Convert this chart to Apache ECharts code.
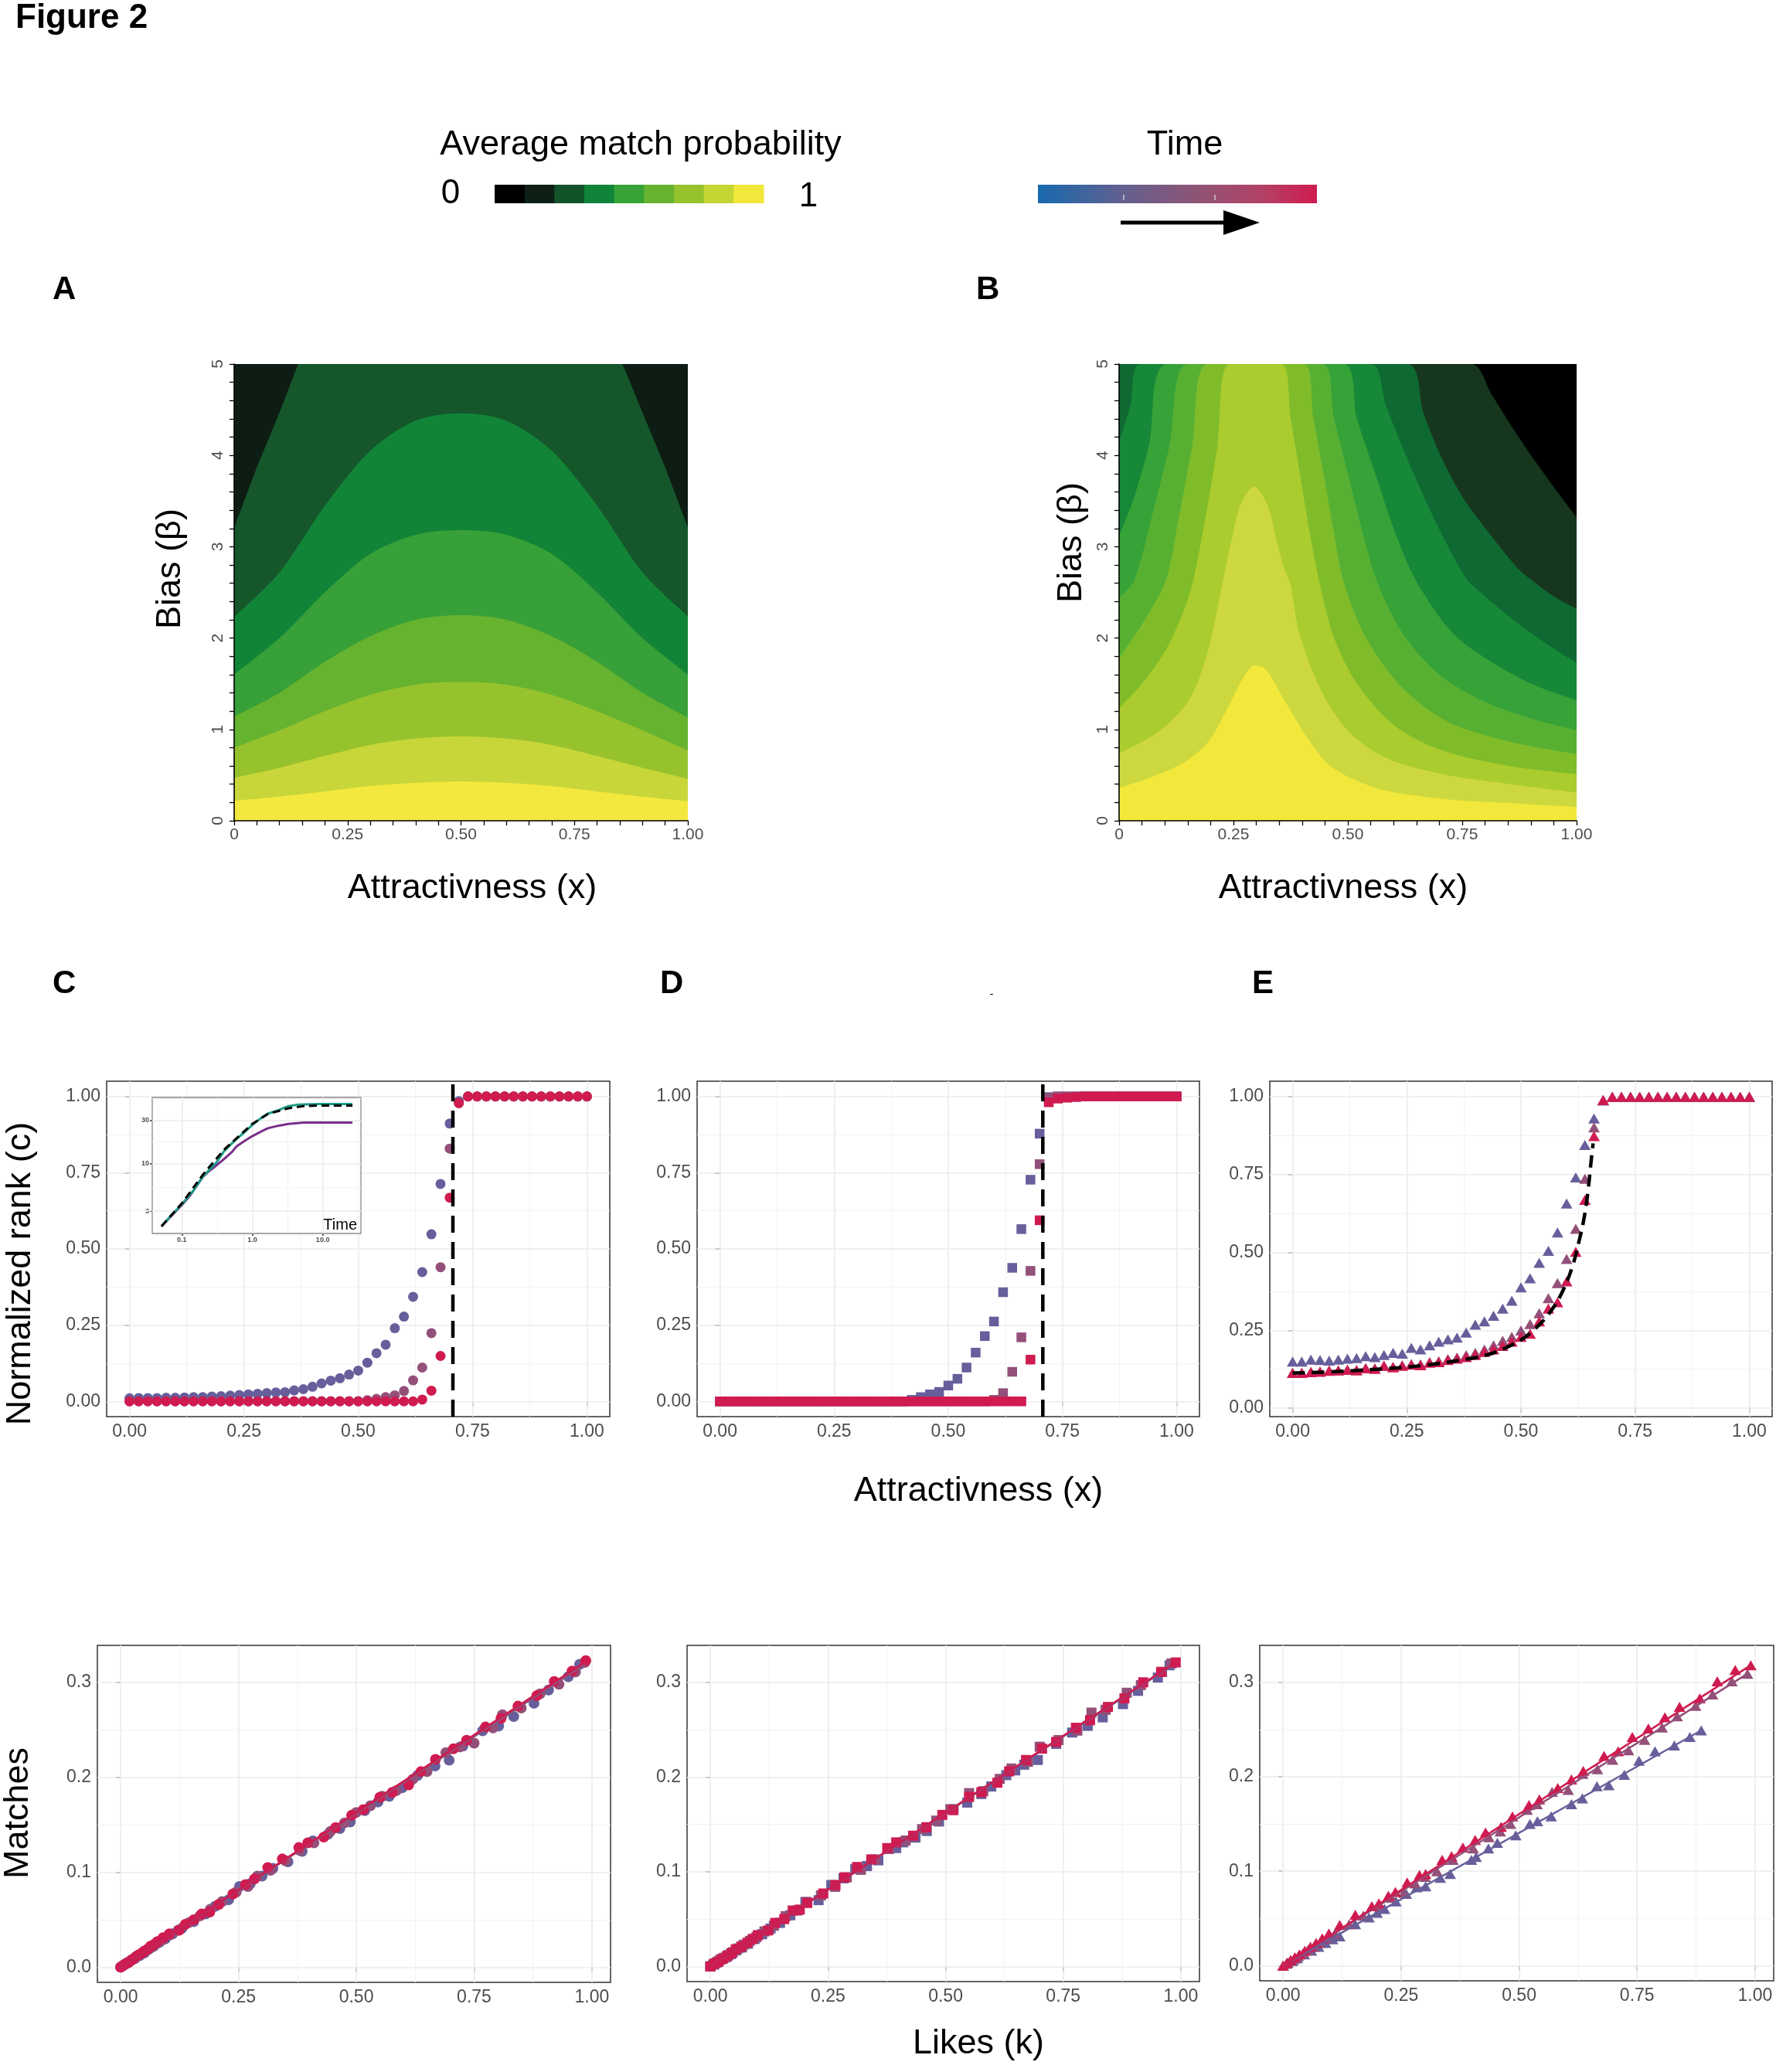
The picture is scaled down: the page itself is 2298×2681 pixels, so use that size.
<!DOCTYPE html>
<html>
<head>
<meta charset="utf-8">
<script src="https://cdn.jsdelivr.net/npm/echarts@6/dist/echarts.min.js"></script>
<style>
  html, body { margin: 0; padding: 0; background: #fff; }
  #fig { width: 2298px; height: 2681px; }
</style>
</head>
<body>
<div id="fig"></div>
<script>
// ---------- colours
const matchColors = ['#000000', '#0e1f15', '#13532a', '#108439', '#37a337', '#67b32f', '#95c22d', '#c4d534', '#f2e83b'];
const aColors = ['#0e1d14', '#15562b', '#128437', '#38a038', '#66b32f', '#96c22d', '#c8d63a', '#f3e83e'];
const bColors = ['#000000', '#16371d', '#0f6933', '#168838', '#36a238', '#58b033', '#80bc2a', '#abcc2e', '#cdd83f', '#f2e83b'];
const timeEarly = '#665f9b', timeMid = '#935079', timeLate = '#cf1b50';

// ---------- panel A: upper edge (beta) of each band, from darkest to yellow
const aTopX = [0, 1];
const aTop = [5, 5];
const aBand7X = [0, 0.05, 0.1, 0.141, 0.5, 0.856, 0.9, 0.95, 1];
const aBand7 = [3.21, 3.87, 4.47, 5, 5, 5, 4.47, 3.87, 3.21];
const aX = [0, 0.1, 0.2, 0.3, 0.4, 0.5, 0.6, 0.7, 0.8, 0.9, 1];
const aBand6 = [2.23, 2.72, 3.45, 4.05, 4.38, 4.46, 4.38, 4.05, 3.45, 2.72, 2.24];
const aBand5 = [1.6, 2.0, 2.5, 2.92, 3.13, 3.18, 3.13, 2.92, 2.5, 2.0, 1.6];
const aBand4 = [1.14, 1.40, 1.74, 2.02, 2.2, 2.25, 2.2, 2.02, 1.74, 1.40, 1.13];
const aBand3 = [0.8, 0.99, 1.2, 1.38, 1.49, 1.52, 1.49, 1.38, 1.2, 0.99, 0.77];
const aBand2 = [0.47, 0.58, 0.71, 0.83, 0.9, 0.925, 0.9, 0.83, 0.71, 0.58, 0.46];
const aBand1 = [0.22, 0.265, 0.32, 0.38, 0.415, 0.43, 0.415, 0.38, 0.32, 0.265, 0.215];

// ---------- panel B: upper edge of each level region (T1 darkest ... T9 yellow)
const bTopX = [0, 1];
const bTop = [5, 5];
const bT1X = [0, 0.769, 0.815, 0.864, 0.913, 0.955, 1];
const bT1 = [5, 5, 4.66, 4.27, 3.91, 3.62, 3.32];
const bT2X = [0, 0.63, 0.666, 0.707, 0.75, 0.79, 0.872, 0.911, 0.955, 1];
const bT2 = [5, 5, 4.45, 3.95, 3.55, 3.27, 2.76, 2.6, 2.44, 2.32];
const bT3X = [0, 0.025, 0.046, 0.55, 0.583, 0.625, 0.666, 0.707, 0.759, 0.79, 0.872, 0.955, 1];
const bT3 = [4.15, 4.55, 5, 5, 4.55, 4.02, 3.55, 3.12, 2.65, 2.5, 2.16, 1.87, 1.73];
const bT4X = [0, 0.03, 0.065, 0.106, 0.49, 0.52, 0.56, 0.6, 0.649, 0.73, 0.82, 0.91, 1];
const bT4 = [3.12, 3.5, 4.1, 5, 5, 4.4, 3.8, 3.2, 2.63, 2.05, 1.72, 1.48, 1.32];
const bT5X = [0, 0.033, 0.07, 0.11, 0.152, 0.444, 0.47, 0.5, 0.53, 0.563, 0.62, 0.7, 0.8, 0.9, 1];
const bT5 = [2.44, 2.63, 3.3, 4.1, 5, 5, 4.4, 3.8, 3.2, 2.63, 2.05, 1.6, 1.3, 1.12, 0.99];
const bT6X = [0, 0.05, 0.102, 0.13, 0.16, 0.195, 0.404, 0.425, 0.447, 0.468, 0.49, 0.54, 0.62, 0.72, 0.85, 1];
const bT6 = [1.78, 2.15, 2.63, 3.3, 4.1, 5, 5, 4.4, 3.8, 3.2, 2.63, 2.0, 1.45, 1.08, 0.87, 0.73];
const bT7X = [0, 0.05, 0.1, 0.14, 0.162, 0.19, 0.215, 0.242, 0.354, 0.375, 0.395, 0.415, 0.437, 0.47, 0.52, 0.6, 0.7, 0.85, 1];
const bT7 = [1.23, 1.5, 1.85, 2.28, 2.63, 3.35, 4.1, 5, 5, 4.4, 3.8, 3.2, 2.63, 2.0, 1.5, 1.05, 0.78, 0.6, 0.51];
const bT8X = [0, 0.088, 0.154, 0.195, 0.222, 0.245, 0.265, 0.295, 0.325, 0.345, 0.361, 0.374, 0.394, 0.443, 0.501, 0.583, 0.707, 0.872, 1];
const bT8 = [0.74, 0.98, 1.33, 1.87, 2.5, 3.05, 3.45, 3.66, 3.45, 3.05, 2.76, 2.6, 2.05, 1.41, 0.98, 0.69, 0.51, 0.39, 0.31];
const bT9X = [0, 0.072, 0.146, 0.196, 0.237, 0.27, 0.295, 0.32, 0.36, 0.402, 0.451, 0.501, 0.583, 0.707, 0.831, 1];
const bT9 = [0.36, 0.48, 0.65, 0.87, 1.23, 1.55, 1.70, 1.66, 1.33, 0.98, 0.65, 0.48, 0.33, 0.24, 0.2, 0.15];

// ---------- panels C, D, E: normalized rank vs attractiveness
const rankX = [0.00, 0.02, 0.04, 0.06, 0.08, 0.10, 0.12, 0.14, 0.16, 0.18, 0.20, 0.22, 0.24, 0.26, 0.28, 0.30, 0.32, 0.34, 0.36, 0.38, 0.40, 0.42, 0.44, 0.46, 0.48, 0.50, 0.52, 0.54, 0.56, 0.58, 0.60, 0.62, 0.64, 0.66, 0.68, 0.70, 0.72, 0.74, 0.76, 0.78, 0.80, 0.82, 0.84, 0.86, 0.88, 0.90, 0.92, 0.94, 0.96, 0.98, 1.00];
const cEarly = [0.010, 0.011, 0.011, 0.011, 0.012, 0.012, 0.013, 0.014, 0.014, 0.016, 0.017, 0.019, 0.021, 0.023, 0.025, 0.027, 0.029, 0.030, 0.036, 0.040, 0.048, 0.059, 0.068, 0.076, 0.088, 0.101, 0.127, 0.158, 0.186, 0.240, 0.278, 0.343, 0.424, 0.548, 0.713, 0.911, 0.985, 1, 1, 1, 1, 1, 1, 1, 1, 1, 1, 1, 1, 1, 1];
const cMid = [0.001, 0.001, 0.001, 0.001, 0.001, 0.001, 0.001, 0.001, 0.001, 0.001, 0.001, 0.001, 0.001, 0.001, 0.001, 0.001, 0.001, 0.001, 0.001, 0.001, 0.001, 0.001, 0.001, 0.001, 0.001, 0.001, 0.004, 0.008, 0.014, 0.020, 0.034, 0.069, 0.111, 0.224, 0.440, 0.829, 0.980, 1, 1, 1, 1, 1, 1, 1, 1, 1, 1, 1, 1, 1, 1];
const cLate = [0, 0, 0, 0, 0, 0, 0, 0, 0, 0, 0, 0, 0, 0, 0, 0, 0, 0, 0, 0, 0, 0, 0, 0, 0, 0, 0, 0, 0, 0, 0, 0, 0.006, 0.035, 0.149, 0.668, 0.978, 1, 1, 1, 1, 1, 1, 1, 1, 1, 1, 1, 1, 1, 1];
const dEarly = [0, 0, 0, 0, 0, 0, 0, 0, 0, 0, 0, 0, 0, 0, 0, 0, 0, 0, 0, 0, 0, 0.005, 0.014, 0.023, 0.031, 0.052, 0.074, 0.111, 0.160, 0.214, 0.262, 0.358, 0.438, 0.565, 0.727, 0.878, 0.998, 1, 1, 1, 1, 1, 1, 1, 1, 1, 1, 1, 1, 1, 1];
const dMid = [0, 0, 0, 0, 0, 0, 0, 0, 0, 0, 0, 0, 0, 0, 0, 0, 0, 0, 0, 0, 0, 0, 0, 0, 0, 0, 0, 0, 0, 0, 0.005, 0.027, 0.097, 0.210, 0.428, 0.778, 0.995, 1, 1, 1, 1, 1, 1, 1, 1, 1, 1, 1, 1, 1, 1];
const dLate = [0, 0, 0, 0, 0, 0, 0, 0, 0, 0, 0, 0, 0, 0, 0, 0, 0, 0, 0, 0, 0, 0, 0, 0, 0, 0, 0, 0, 0, 0, 0, 0, 0, 0, 0.137, 0.594, 0.981, 0.993, 0.996, 0.998, 1, 1, 1, 1, 1, 1, 1, 1, 1, 1, 1];
const eEarly = [0.150, 0.150, 0.156, 0.155, 0.153, 0.156, 0.159, 0.161, 0.167, 0.164, 0.171, 0.178, 0.175, 0.194, 0.189, 0.202, 0.214, 0.221, 0.227, 0.243, 0.268, 0.279, 0.297, 0.320, 0.345, 0.388, 0.417, 0.467, 0.505, 0.564, 0.657, 0.741, 0.845, 0.930, 0.988, 1, 1, 1, 1, 1, 1, 1, 1, 1, 1, 1, 1, 1, 1, 1, 1];
const eMid = [0.114, 0.114, 0.117, 0.118, 0.121, 0.122, 0.124, 0.123, 0.129, 0.128, 0.137, 0.133, 0.138, 0.142, 0.141, 0.148, 0.151, 0.158, 0.163, 0.170, 0.178, 0.188, 0.202, 0.217, 0.229, 0.250, 0.270, 0.305, 0.353, 0.402, 0.479, 0.576, 0.737, 0.902, 0.989, 1, 1, 1, 1, 1, 1, 1, 1, 1, 1, 1, 1, 1, 1, 1, 1];
const eLate = [0.113, 0.113, 0.116, 0.117, 0.120, 0.121, 0.123, 0.121, 0.128, 0.126, 0.136, 0.131, 0.136, 0.140, 0.138, 0.146, 0.148, 0.155, 0.159, 0.164, 0.171, 0.181, 0.189, 0.200, 0.214, 0.229, 0.239, 0.279, 0.320, 0.340, 0.407, 0.502, 0.669, 0.874, 0.990, 1, 1, 1, 1, 1, 1, 1, 1, 1, 1, 1, 1, 1, 1, 1, 1];
const eTheoryX = [0, 0.1, 0.232, 0.3, 0.387, 0.43, 0.464, 0.503, 0.527, 0.55, 0.573, 0.592, 0.612, 0.627, 0.639, 0.647, 0.654, 0.658];
const eTheory = [0.113, 0.118, 0.130, 0.140, 0.159, 0.173, 0.192, 0.222, 0.250, 0.283, 0.328, 0.378, 0.452, 0.535, 0.617, 0.700, 0.799, 0.850];
const thresholdC = 0.707, thresholdD = 0.707;

// ---------- inset of C (log-log, rank vs time)
const insetTealX = [0.0514, 0.0732, 0.1, 0.144, 0.201, 0.307, 0.395, 0.555, 0.776, 1.0, 1.40, 1.66, 2.32, 3.26, 4.56, 8.96, 26.4];
const insetTeal = [2.05, 2.79, 3.57, 5.0, 7.28, 10.2, 13.6, 17.7, 22.1, 26.5, 32.6, 35.3, 38.4, 42.8, 44.5, 45.1, 45.1];
const insetDashX = [0.0514, 0.1, 0.2, 0.394, 1.0, 1.66, 3.26, 5.4, 8.96, 26.4];
const insetDash = [2.05, 3.66, 7.6, 14.1, 27.3, 35.0, 40.5, 42.8, 43.4, 43.4];
const insetPurpleX = [0.0514, 0.1, 0.132, 0.2, 0.25, 0.307, 0.395, 0.51, 0.6, 0.776, 1.0, 1.4, 1.66, 2.32, 3.26, 5.4, 26.4];
const insetPurple = [2.05, 3.5, 4.5, 7.2, 8.4, 9.5, 11.2, 13.3, 15.5, 17.7, 20.0, 22.9, 24.4, 26.0, 27.2, 28.2, 28.2];

// ---------- bottom row: matches vs likes
const blEarlyK = [0, 0.007, 0.015, 0.022, 0.03, 0.04, 0.05, 0.06, 0.07, 0.082, 0.095, 0.11, 0.13, 0.155, 0.18, 0.2, 0.229, 0.252, 0.275, 0.3, 0.323, 0.355, 0.385, 0.408, 0.44, 0.465, 0.487, 0.518, 0.546, 0.57, 0.597, 0.63, 0.667, 0.697, 0.726, 0.768, 0.802, 0.834, 0.877, 0.908, 0.950, 0.974];
const blEarlyM = [0, 0.002, 0.005, 0.007, 0.009, 0.012, 0.015, 0.019, 0.022, 0.026, 0.030, 0.035, 0.041, 0.048, 0.056, 0.064, 0.071, 0.085, 0.088, 0.096, 0.104, 0.111, 0.122, 0.133, 0.140, 0.146, 0.153, 0.165, 0.174, 0.180, 0.189, 0.202, 0.212, 0.218, 0.233, 0.249, 0.254, 0.264, 0.278, 0.292, 0.306, 0.319];
const blMidK = [0, 0.005, 0.011, 0.017, 0.024, 0.031, 0.039, 0.047, 0.056, 0.066, 0.077, 0.09, 0.105, 0.122, 0.145, 0.168, 0.19, 0.215, 0.245, 0.27, 0.29, 0.318, 0.35, 0.38, 0.41, 0.445, 0.475, 0.5, 0.53, 0.555, 0.585, 0.62, 0.65, 0.69, 0.72, 0.75, 0.79, 0.81, 0.85, 0.89, 0.93, 0.965, 0.985];
const blMidM = [0, 0.002, 0.004, 0.005, 0.008, 0.010, 0.013, 0.015, 0.018, 0.021, 0.025, 0.029, 0.034, 0.039, 0.047, 0.054, 0.061, 0.069, 0.079, 0.085, 0.096, 0.102, 0.112, 0.123, 0.131, 0.143, 0.152, 0.163, 0.170, 0.180, 0.186, 0.198, 0.206, 0.226, 0.232, 0.236, 0.252, 0.266, 0.273, 0.288, 0.298, 0.311, 0.321];
const blLateK = [0, 0.006, 0.013, 0.019, 0.025, 0.032, 0.038, 0.045, 0.05, 0.057, 0.063, 0.071, 0.078, 0.09, 0.103, 0.124, 0.137, 0.155, 0.172, 0.189, 0.208, 0.238, 0.265, 0.284, 0.312, 0.343, 0.378, 0.397, 0.431, 0.456, 0.490, 0.515, 0.550, 0.576, 0.611, 0.637, 0.668, 0.706, 0.734, 0.774, 0.807, 0.843, 0.883, 0.920, 0.958, 0.987];
const blLateM = [0, 0.002, 0.004, 0.006, 0.008, 0.011, 0.013, 0.015, 0.017, 0.019, 0.022, 0.024, 0.027, 0.031, 0.035, 0.039, 0.045, 0.050, 0.056, 0.058, 0.066, 0.077, 0.087, 0.093, 0.105, 0.114, 0.126, 0.131, 0.137, 0.147, 0.160, 0.166, 0.179, 0.184, 0.192, 0.206, 0.219, 0.230, 0.239, 0.253, 0.262, 0.275, 0.286, 0.301, 0.312, 0.323];
const blFitK = [0, 0.974, 0, 0.985, 0, 0.987];
const blFitM = [0, 0.316, 0, 0.319, 0, 0.322];

const bmEarlyK = [0, 0.008, 0.016, 0.025, 0.034, 0.044, 0.055, 0.067, 0.08, 0.094, 0.11, 0.128, 0.148, 0.17, 0.202, 0.23, 0.257, 0.283, 0.308, 0.333, 0.357, 0.395, 0.41, 0.436, 0.46, 0.486, 0.517, 0.546, 0.576, 0.597, 0.629, 0.648, 0.667, 0.696, 0.735, 0.769, 0.802, 0.834, 0.877, 0.909, 0.951, 0.976];
const bmEarlyM = [0, 0.002, 0.005, 0.008, 0.010, 0.013, 0.017, 0.020, 0.024, 0.029, 0.034, 0.040, 0.046, 0.054, 0.068, 0.070, 0.086, 0.093, 0.103, 0.106, 0.112, 0.125, 0.131, 0.136, 0.143, 0.153, 0.166, 0.173, 0.182, 0.190, 0.202, 0.207, 0.213, 0.218, 0.235, 0.247, 0.254, 0.263, 0.277, 0.291, 0.305, 0.318];
const bmMidK = [0, 0.006, 0.013, 0.021, 0.029, 0.038, 0.048, 0.059, 0.071, 0.084, 0.098, 0.115, 0.135, 0.16, 0.185, 0.205, 0.235, 0.265, 0.29, 0.32, 0.35, 0.38, 0.415, 0.45, 0.48, 0.51, 0.55, 0.58, 0.615, 0.64, 0.675, 0.7, 0.74, 0.78, 0.81, 0.84, 0.885, 0.915, 0.96, 0.98];
const bmMidM = [0, 0.002, 0.004, 0.007, 0.009, 0.012, 0.015, 0.019, 0.023, 0.027, 0.031, 0.037, 0.043, 0.053, 0.059, 0.068, 0.075, 0.084, 0.094, 0.102, 0.113, 0.124, 0.133, 0.145, 0.154, 0.166, 0.183, 0.185, 0.198, 0.209, 0.216, 0.232, 0.239, 0.249, 0.268, 0.271, 0.289, 0.297, 0.311, 0.320];
const bmLateK = [0, 0.009, 0.017, 0.026, 0.036, 0.045, 0.054, 0.066, 0.079, 0.09, 0.101, 0.123, 0.138, 0.157, 0.175, 0.19, 0.206, 0.24, 0.266, 0.285, 0.312, 0.342, 0.376, 0.395, 0.431, 0.459, 0.493, 0.516, 0.55, 0.576, 0.61, 0.635, 0.671, 0.705, 0.735, 0.777, 0.807, 0.845, 0.88, 0.92, 0.958, 0.989];
const bmLateM = [0, 0.003, 0.005, 0.008, 0.011, 0.014, 0.018, 0.021, 0.025, 0.029, 0.033, 0.038, 0.046, 0.050, 0.059, 0.060, 0.067, 0.077, 0.086, 0.094, 0.105, 0.113, 0.125, 0.131, 0.138, 0.147, 0.160, 0.165, 0.179, 0.184, 0.194, 0.206, 0.218, 0.230, 0.237, 0.252, 0.260, 0.274, 0.283, 0.300, 0.311, 0.321];
const bmFitK = [0, 0.976, 0, 0.98, 0, 0.989];
const bmFitM = [0, 0.316, 0, 0.318, 0, 0.321];

const brEarlyK = [0, 0.01, 0.02, 0.03, 0.045, 0.06, 0.075, 0.09, 0.105, 0.12, 0.153, 0.182, 0.199, 0.215, 0.239, 0.261, 0.283, 0.302, 0.333, 0.354, 0.399, 0.409, 0.435, 0.454, 0.493, 0.523, 0.539, 0.568, 0.611, 0.634, 0.665, 0.69, 0.723, 0.754, 0.788, 0.829, 0.862, 0.886];
const brEarlyM = [0, 0.003, 0.005, 0.008, 0.012, 0.016, 0.020, 0.024, 0.028, 0.031, 0.044, 0.051, 0.056, 0.060, 0.068, 0.076, 0.083, 0.084, 0.093, 0.097, 0.112, 0.115, 0.124, 0.130, 0.138, 0.150, 0.153, 0.158, 0.171, 0.177, 0.190, 0.191, 0.202, 0.217, 0.227, 0.233, 0.242, 0.249];
const brMidK = [0, 0.007, 0.015, 0.023, 0.032, 0.042, 0.053, 0.065, 0.078, 0.092, 0.11, 0.14, 0.17, 0.2, 0.23, 0.256, 0.28, 0.301, 0.326, 0.36, 0.403, 0.436, 0.46, 0.482, 0.517, 0.538, 0.57, 0.604, 0.635, 0.666, 0.698, 0.732, 0.766, 0.803, 0.835, 0.874, 0.91, 0.951, 0.984];
const brMidM = [0, 0.002, 0.005, 0.007, 0.010, 0.013, 0.017, 0.020, 0.024, 0.029, 0.034, 0.044, 0.053, 0.063, 0.072, 0.077, 0.087, 0.094, 0.100, 0.112, 0.124, 0.136, 0.142, 0.150, 0.165, 0.171, 0.184, 0.186, 0.203, 0.208, 0.218, 0.228, 0.239, 0.252, 0.264, 0.275, 0.287, 0.301, 0.309];
const brLateK = [0, 0.008, 0.016, 0.025, 0.035, 0.046, 0.058, 0.07, 0.083, 0.097, 0.12, 0.153, 0.188, 0.203, 0.223, 0.238, 0.263, 0.289, 0.302, 0.337, 0.357, 0.381, 0.407, 0.429, 0.462, 0.486, 0.521, 0.543, 0.582, 0.611, 0.636, 0.68, 0.71, 0.74, 0.774, 0.809, 0.84, 0.883, 0.92, 0.958, 0.991];
const brLateM = [0, 0.003, 0.006, 0.009, 0.012, 0.016, 0.020, 0.024, 0.029, 0.034, 0.043, 0.054, 0.063, 0.066, 0.074, 0.078, 0.088, 0.096, 0.097, 0.112, 0.116, 0.125, 0.133, 0.141, 0.147, 0.158, 0.170, 0.176, 0.188, 0.197, 0.206, 0.222, 0.227, 0.242, 0.251, 0.263, 0.274, 0.283, 0.301, 0.313, 0.318];
const brFitK = [0, 0.886, 0, 0.984, 0, 0.991];
const brFitM = [0, 0.249, 0, 0.309, 0, 0.318];

// ---------- axis ticks
const unitTicks = [0, 0.25, 0.5, 0.75, 1];
const unitMinor = [0.125, 0.375, 0.625, 0.875];
const matchTicks = [0, 0.1, 0.2, 0.3];
const matchMinor = [0.05, 0.15, 0.25];
const betaTicks = [0, 1, 2, 3, 4, 5];
const insetXTicks = [0.1, 1, 10];
const insetXMinor = [0.316, 3.16, 31.6];
const insetYTicks = [3, 10, 30];
const insetYMinor = [5.48, 17.3, 52];

// ---------- helpers
const FONT = "'Liberation Sans', Arial, Helvetica, sans-serif";
const LABEL = '#4d4d4d';
const grids = [], xAxes = [], yAxes = [], series = [], graphics = [];
const pairs = (xs, ys) => xs.map((x, i) => [x, ys[i]]);

function addGrid(r, extra) {
  grids.push(Object.assign({
    left: r[0], top: r[1], width: r[2] - r[0], height: r[3] - r[1],
    containLabel: false, outerBoundsMode: 'none'
  }, extra || {}));
  return grids.length - 1;
}

function axis(i, range, ticks, fmt, o) {
  o = o || {};
  return {
    gridIndex: i, type: o.type || 'value', min: range[0], max: range[1],
    axisLine: { show: false }, splitLine: { show: false },
    axisTick: { show: true, length: o.tickLen || 6, customValues: ticks, lineStyle: { color: '#333333', width: 1.5 } },
    axisLabel: {
      customValues: ticks, formatter: fmt, color: LABEL, fontFamily: FONT,
      fontSize: o.size || 23, fontWeight: o.weight || 'normal', margin: o.margin || 8
    }
  };
}

function gridLines(i, xr, yr, g, z) {
  const data = [];
  const minor = { color: '#f3f3f3', width: 1 };
  const major = { color: '#ebebeb', width: 1.6 };
  g.minorX.forEach(v => data.push({ coords: [[v, yr[0]], [v, yr[1]]], lineStyle: minor }));
  g.minorY.forEach(v => data.push({ coords: [[xr[0], v], [xr[1], v]], lineStyle: minor }));
  g.majorX.forEach(v => data.push({ coords: [[v, yr[0]], [v, yr[1]]], lineStyle: major }));
  g.majorY.forEach(v => data.push({ coords: [[xr[0], v], [xr[1], v]], lineStyle: major }));
  return {
    type: 'lines', coordinateSystem: 'cartesian2d', xAxisIndex: i, yAxisIndex: i,
    silent: true, z: z || 1, lineStyle: { opacity: 1 }, data
  };
}

function framedPanel(r, xr, yr, g, xf, yf) {
  const i = addGrid(r, { show: true, borderColor: '#333333', borderWidth: 1.5, backgroundColor: 'rgba(0,0,0,0)' });
  xAxes.push(axis(i, xr, g.majorX, xf));
  yAxes.push(axis(i, yr, g.majorY, yf));
  series.push(gridLines(i, xr, yr, g, 1));
  return i;
}

function dots(i, xs, ys, symbol, size, color) {
  return {
    type: 'scatter', xAxisIndex: i, yAxisIndex: i, data: pairs(xs, ys),
    symbol, symbolSize: size, itemStyle: { color, opacity: 1 }, silent: true, z: 2
  };
}

function path(i, xs, ys, color, width, dash, z, smooth) {
  return {
    type: 'line', xAxisIndex: i, yAxisIndex: i, data: pairs(xs, ys),
    showSymbol: false, symbol: 'none', smooth: smooth || false, silent: true, z: z || 3,
    lineStyle: { color, width, type: dash || 'solid' }
  };
}

// bands: [xs, ys, smooth]
function contourPanel(r, bands, colors) {
  const i = addGrid(r);
  xAxes.push({
    gridIndex: i, type: 'value', min: 0, max: 1, interval: 0.05, z: 10,
    axisLine: { show: true, lineStyle: { color: '#000', width: 1.6 } },
    axisTick: { show: true, length: 6, lineStyle: { color: '#000', width: 1.3 } },
    splitLine: { show: false },
    axisLabel: {
      customValues: unitTicks, formatter: v => (v === 0 ? '0' : v.toFixed(2)),
      color: LABEL, fontFamily: FONT, fontSize: 21, margin: 8
    }
  });
  yAxes.push({
    gridIndex: i, type: 'value', min: 0, max: 5, interval: 0.2, z: 10,
    axisLine: { show: true, lineStyle: { color: '#000', width: 1.6 } },
    axisTick: { show: true, length: 6, lineStyle: { color: '#000', width: 1.3 } },
    splitLine: { show: false },
    axisLabel: {
      customValues: betaTicks, formatter: v => String(v), rotate: 90,
      color: LABEL, fontFamily: FONT, fontSize: 21, margin: 10
    }
  });
  bands.forEach((b, k) => series.push({
    type: 'line', xAxisIndex: i, yAxisIndex: i, data: pairs(b[0], b[1]),
    smooth: b.length > 2 ? b[2] : 0.3, showSymbol: false, symbol: 'none', silent: true, z: 1, clip: true,
    lineStyle: { width: 0, opacity: 0 },
    areaStyle: { color: colors[k], opacity: 1 }
  }));
  return i;
}

function text(x, y, str, size, o) {
  o = o || {};
  graphics.push({
    type: 'text', x, y, rotation: o.rot || 0, silent: true, z: 20,
    style: {
      text: str, fill: o.color || '#000',
      font: (o.bold ? 'bold ' : '') + size + 'px ' + FONT,
      textAlign: o.align || 'center', align: o.align || 'center',
      textVerticalAlign: 'middle', verticalAlign: 'middle'
    }
  });
}

// ---------- panels A and B
contourPanel([303, 471, 890, 1062],
  [[aTopX, aTop, false], [aBand7X, aBand7, false], [aX, aBand6], [aX, aBand5], [aX, aBand4], [aX, aBand3], [aX, aBand2], [aX, aBand1]],
  aColors);
contourPanel([1448, 471, 2040, 1062],
  [[bTopX, bTop, false], [bT1X, bT1], [bT2X, bT2], [bT3X, bT3], [bT4X, bT4], [bT5X, bT5], [bT6X, bT6], [bT7X, bT7], [bT8X, bT8], [bT9X, bT9]],
  bColors);

// ---------- panels C, D, E
const unitGrid = { majorX: unitTicks, minorX: unitMinor, majorY: unitTicks, minorY: unitMinor };
const f2 = v => v.toFixed(2);
const f1 = v => v.toFixed(1);

const iC = framedPanel([138, 1399, 789, 1833], [-0.05, 1.05], [-0.05, 1.05], unitGrid, f2, f2);
series.push(dots(iC, rankX, cEarly, 'circle', 13, timeEarly));
series.push(dots(iC, rankX, cMid, 'circle', 13, timeMid));
series.push(dots(iC, rankX, cLate, 'circle', 13, timeLate));
series.push(path(iC, [thresholdC, thresholdC], [-0.05, 1.05], '#000', 4.5, [22, 12], 4));

// inset in C
const insetXR = [0.038, 34.8], insetYR = [1.71, 53.2];
const iIn = addGrid([197, 1420, 467, 1596], { show: true, borderColor: '#8a8a8a', borderWidth: 1.3, backgroundColor: '#ffffff', z: 3 });
xAxes.push(axis(iIn, insetXR, insetXTicks, v => (v < 0.5 ? '0.1' : v < 5 ? '1.0' : '10.0'),
  { type: 'log', size: 9, weight: 'bold', tickLen: 3, margin: 4 }));
yAxes.push(axis(iIn, insetYR, insetYTicks, v => String(Math.round(v)),
  { type: 'log', size: 9, weight: 'bold', tickLen: 3, margin: 4 }));
xAxes[iIn].logBase = 10; yAxes[iIn].logBase = 10;
series.push(gridLines(iIn, insetXR, insetYR, { majorX: insetXTicks, minorX: insetXMinor, majorY: insetYTicks, minorY: insetYMinor }, 4));
series.push(path(iIn, insetPurpleX, insetPurple, '#7a2e8a', 3, 'solid', 5));
series.push(path(iIn, insetTealX, insetTeal, '#1f9c88', 3, 'solid', 5));
series.push(path(iIn, insetDashX, insetDash, '#000000', 3, [10, 6], 6));

const iD = framedPanel([902, 1399, 1552, 1833], [-0.05, 1.05], [-0.05, 1.05], unitGrid, f2, f2);
series.push(dots(iD, rankX, dEarly, 'rect', 12.5, timeEarly));
series.push(dots(iD, rankX, dMid, 'rect', 12.5, timeMid));
series.push(dots(iD, rankX, dLate, 'rect', 12.5, timeLate));
series.push(path(iD, [thresholdD, thresholdD], [-0.05, 1.05], '#000', 4.5, [22, 12], 4));

const iE = framedPanel([1643, 1399, 2293, 1833], [-0.05, 1.05], [-0.027, 1.05], unitGrid, f2, f2);
series.push(dots(iE, rankX, eEarly, 'triangle', [15, 13], timeEarly));
series.push(dots(iE, rankX, eMid, 'triangle', [15, 13], timeMid));
series.push(dots(iE, rankX, eLate, 'triangle', [15, 13], timeLate));
series.push(path(iE, eTheoryX, eTheory, '#000', 4.5, [16, 9], 4, 0.4));

// ---------- bottom row
const matchGrid = { majorX: unitTicks, minorX: unitMinor, majorY: matchTicks, minorY: matchMinor };
const likesR = [-0.0495, 1.0395], matchR = [-0.016, 0.339];
function matchPanel(r, sym, size, sets, fitK, fitM) {
  const i = framedPanel(r, likesR, matchR, matchGrid, f2, f1);
  const cols = [timeEarly, timeMid, timeLate];
  sets.forEach((s, k) => series.push(dots(i, s[0], s[1], sym, size, cols[k])));
  cols.forEach((c, k) => series.push(path(i, fitK.slice(2 * k, 2 * k + 2), fitM.slice(2 * k, 2 * k + 2), c, 2.5, 'solid', 3)));
}
matchPanel([126, 2129, 790, 2565], 'circle', 14,
  [[blEarlyK, blEarlyM], [blMidK, blMidM], [blLateK, blLateM]], blFitK, blFitM);
matchPanel([889, 2129, 1552, 2564], 'rect', 13,
  [[bmEarlyK, bmEarlyM], [bmMidK, bmMidM], [bmLateK, bmLateM]], bmFitK, bmFitM);
matchPanel([1630, 2129, 2295, 2563], 'triangle', [15, 13],
  [[brEarlyK, brEarlyM], [brMidK, brMidM], [brLateK, brLateM]], brFitK, brFitM);

// ---------- legends
const cbX0 = 640, cbX1 = 988, cbY = 239, cbH = 24;
const cbW = (cbX1 - cbX0) / matchColors.length;
matchColors.forEach((c, k) => graphics.push({
  type: 'rect', silent: true, z: 5,
  shape: { x: cbX0 + k * cbW, y: cbY, width: cbW + 0.6, height: cbH }, style: { fill: c }
}));
graphics.push({
  type: 'rect', silent: true, z: 5,
  shape: { x: 1343, y: 239, width: 361, height: 24 },
  style: {
    fill: {
      type: 'linear', x: 0, y: 0, x2: 1, y2: 0,
      colorStops: [
        { offset: 0, color: '#1769ae' }, { offset: 0.3, color: '#62608f' },
        { offset: 0.55, color: '#8b5577' }, { offset: 0.8, color: '#b24266' },
        { offset: 1, color: '#cf1c50' }
      ]
    }
  }
});
[1454, 1572].forEach(x => graphics.push({
  type: 'line', silent: true, z: 6, shape: { x1: x, y1: 252, x2: x, y2: 259 }, style: { stroke: '#ffffff', lineWidth: 1 }
}));
graphics.push({ type: 'line', silent: true, z: 6, shape: { x1: 1450, y1: 288, x2: 1596, y2: 288 }, style: { stroke: '#000', lineWidth: 5 } });
graphics.push({ type: 'polygon', silent: true, z: 6, shape: { points: [[1583, 272], [1630, 288], [1583, 304]] }, style: { fill: '#000' } });

// ---------- texts
text(20, 24, 'Figure 2', 44, { bold: true, align: 'left' });
text(829, 188, 'Average match probability', 45);
text(583, 251, '0', 44);
text(1046, 255, '1', 44);
text(1533, 188, 'Time', 45);
text(68, 375, 'A', 42, { bold: true, align: 'left' });
text(1263, 375, 'B', 42, { bold: true, align: 'left' });
text(68, 1273, 'C', 42, { bold: true, align: 'left' });
text(854, 1273, 'D', 42, { bold: true, align: 'left' });
text(1620, 1273, 'E', 42, { bold: true, align: 'left' });
text(1283, 1287, '-', 14);
text(221, 736, 'Bias (\u03b2)', 45, { rot: Math.PI / 2 });
text(1387, 702, 'Bias (\u03b2)', 45, { rot: Math.PI / 2 });
text(611, 1150, 'Attractivness (x)', 45);
text(1738, 1150, 'Attractivness (x)', 45);
text(27, 1648, 'Normalized rank (c)', 45, { rot: Math.PI / 2 });
text(1266, 1930, 'Attractivness (x)', 45);
text(462, 1585, 'Time', 20, { align: 'right' });
text(24, 2346, 'Matches', 45, { rot: Math.PI / 2 });
text(1266, 2645, 'Likes (k)', 45);

const chart = echarts.init(document.getElementById('fig'), null, { renderer: 'canvas' });
chart.setOption({
  animation: false,
  backgroundColor: '#ffffff',
  grid: grids,
  xAxis: xAxes,
  yAxis: yAxes,
  series: series,
  graphic: { elements: graphics }
});
</script>
</body>
</html>
